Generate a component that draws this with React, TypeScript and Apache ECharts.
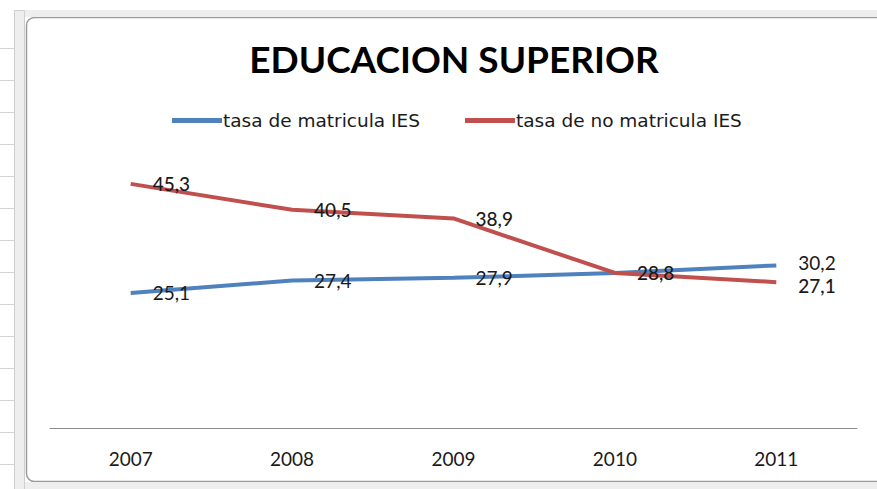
import React, { useEffect, useRef } from "react";
import * as echarts from "echarts";

const years = ["2007", "2008", "2009", "2010", "2011"];
const matricula = [25.1, 27.4, 27.9, 28.8, 30.2];
const noMatricula = [45.3, 40.5, 38.9, 28.8, 27.1];
const seriesNames = ["tasa de matricula IES", "tasa de no matricula IES"];
const title = "EDUCACION SUPERIOR";

const W = 877;
const H = 489;

export default function App() {
  const ref = useRef<HTMLDivElement>(null);
  useEffect(() => {
    if (!ref.current) return;
    const chart = echarts.init(ref.current, null, { renderer: "svg" });
    const gridLines: any[] = [];
    for (let y = 48; y < H; y += 32) {
      gridLines.push({
        type: "line",
        shape: { x1: 0, y1: y + 0.5, x2: 14, y2: y + 0.5 },
        style: { stroke: "#d4d4d4", lineWidth: 1 },
        silent: true,
      });
    }
    const makeLabel = (hideIdx: number[]) => ({
      show: true,
      position: "right",
      distance: 22,
      offset: [0, 3],
      fontFamily: "Lato",
      fontSize: 19,
      lineHeight: 17,
      color: "#1a1a1a",
      formatter: (p: any) => (hideIdx.includes(p.dataIndex) ? "" : String(p.value).replace(".", ",")),
    });
    chart.setOption({
      animation: false,
      backgroundColor: "#ffffff",
      title: {
        text: title,
        left: 449,
        textAlign: "center",
        top: 35,
        textStyle: {
          fontFamily: "Lato",
          fontWeight: "bold",
          fontSize: 37,
          color: "#000000",
        },
      },
      legend: {
        top: 106,
        left: 167,
        itemWidth: 50,
        itemHeight: 5,
        itemGap: 45,
        icon: "rect",
        textStyle: {
          fontFamily: "DejaVu Sans",
          fontSize: 18.5,
          color: "#1a1a1a",
          padding: [0, 0, 0, -4],
        },
        data: seriesNames,
      },
      grid: { left: 50, right: 20, top: 158.5, bottom: 60.5 },
      xAxis: {
        type: "category",
        data: years,
        boundaryGap: true,
        axisLine: { show: true, lineStyle: { color: "#8c8c8c", width: 1 } },
        axisTick: { show: false },
        axisLabel: {
          margin: 20,
          fontFamily: "Lato",
          fontSize: 19,
          color: "#1a1a1a",
        },
        splitLine: { show: false },
      },
      yAxis: {
        type: "value",
        min: 0,
        max: 50,
        interval: 10,
        show: false,
        splitLine: { show: false },
      },
      graphic: [
        { type: "rect", shape: { x: 0, y: 10, width: W, height: 7 }, style: { fill: "#eeeeee" }, silent: true },
        { type: "rect", shape: { x: 0, y: 482, width: W, height: 7 }, style: { fill: "#eeeeee" }, silent: true },
        { type: "rect", shape: { x: 0, y: 0, width: 14, height: H }, style: { fill: "#ffffff" }, silent: true },
        ...gridLines,
        { type: "rect", shape: { x: 14.5, y: 10.5, width: 10, height: H }, style: { fill: "#eeeeee", stroke: "#cfcfcf", lineWidth: 1 }, silent: true },
        {
          type: "rect",
          shape: { x: 26.5, y: 17.5, width: 860, height: 464, r: 8 },
          style: { fill: "#ffffff", stroke: "#9a9a9a", lineWidth: 1.5 },
          silent: true,
          z: -1,
        },
      ],
      series: [
        {
          name: seriesNames[0],
          type: "line",
          data: matricula,
          symbol: "circle",
          symbolSize: 0,
          lineStyle: { color: "#4f81bd", width: 4 },
          itemStyle: { color: "#4f81bd" },
          label: makeLabel([3]),
          labelLayout: (p: any) => (p.dataIndex === 4 ? { dy: -3 } : {}),
          z: 3,
        },
        {
          name: seriesNames[1],
          type: "line",
          data: noMatricula,
          symbol: "circle",
          symbolSize: 0,
          lineStyle: { color: "#c0504d", width: 4 },
          itemStyle: { color: "#c0504d" },
          label: { ...makeLabel([]), fontWeight: 500 },
          labelLayout: (p: any) => (p.dataIndex === 4 ? { dy: 3 } : {}),
          z: 3,
        },
      ],
    });
    return () => chart.dispose();
  }, []);
  return (
    <div style={{ position: "fixed", left: 0, top: 0, width: W, height: H, background: "#ffffff" }}>
      <div ref={ref} style={{ width: W, height: H }} />
    </div>
  );
}
